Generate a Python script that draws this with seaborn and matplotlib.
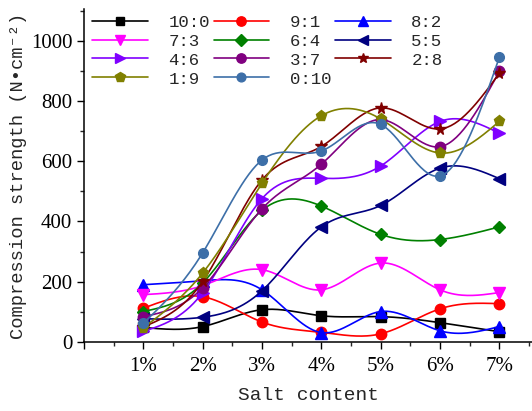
import numpy as np
import matplotlib
matplotlib.use("Agg")
import matplotlib.pyplot as plt
import seaborn as sns
from matplotlib.lines import Line2D
from matplotlib.ticker import MultipleLocator

# salt content (%) and compression strength for each ratio
salt = [1, 2, 3, 4, 5, 6, 7]
salt_labels = ["1%", "2%", "3%", "4%", "5%", "6%", "7%"]

r10_0 = [48, 51, 107, 87, 84, 64, 34]
r9_1 = [112, 150, 66, 32, 27, 110, 127]
r8_2 = [190, 203, 173, 31, 101, 37, 51]
r7_3 = [157, 187, 240, 173, 262, 173, 164]
r6_4 = [101, 196, 437, 451, 357, 340, 382]
r5_5 = [77, 82, 170, 382, 453, 577, 542]
r4_6 = [35, 164, 476, 543, 584, 732, 693]
r3_7 = [84, 180, 442, 590, 738, 648, 898]
r2_8 = [50, 201, 538, 649, 777, 707, 892]
r1_9 = [47, 229, 527, 751, 740, 627, 732]
r0_10 = [62, 296, 604, 634, 722, 551, 945]

labels = ["10:0", "9:1", "8:2", "7:3", "6:4", "5:5",
          "4:6", "3:7", "2:8", "1:9", "0:10"]
series = [r10_0, r9_1, r8_2, r7_3, r6_4, r5_5, r4_6, r3_7, r2_8, r1_9, r0_10]
colors = ["#000000", "#ff0000", "#0000ff", "#ff00ff", "#008000", "#000080",
          "#8000ff", "#800080", "#800000", "#808000", "#3d6fa8"]
markers = ["s", "o", "^", "v", "D", "<", ">", "o", "*", "p", "o"]
msizes = [7, 7.5, 8, 8, 6.5, 8, 8, 7.5, 8.5, 8, 7]


def natural_spline(x, y, n=200):
    # natural cubic spline through the points
    x = np.asarray(x, float)
    y = np.asarray(y, float)
    k = len(x)
    h = np.diff(x)
    A = np.zeros((k, k))
    b = np.zeros(k)
    A[0, 0] = A[-1, -1] = 1
    for i in range(1, k - 1):
        A[i, i - 1] = h[i - 1]
        A[i, i] = 2 * (h[i - 1] + h[i])
        A[i, i + 1] = h[i]
        b[i] = 3 * ((y[i + 1] - y[i]) / h[i] - (y[i] - y[i - 1]) / h[i - 1])
    c = np.linalg.solve(A, b)
    xs = np.linspace(x[0], x[-1], n)
    ys = np.empty_like(xs)
    for j, xv in enumerate(xs):
        i = min(np.searchsorted(x, xv, side="right") - 1, k - 2)
        dx = xv - x[i]
        bi = (y[i + 1] - y[i]) / h[i] - h[i] * (2 * c[i] + c[i + 1]) / 3
        di = (c[i + 1] - c[i]) / (3 * h[i])
        ys[j] = y[i] + bi * dx + c[i] * dx ** 2 + di * dx ** 3
    return xs, ys


sns.set_style("ticks")
plt.rcParams["font.family"] = ["Liberation Serif", "DejaVu Serif"]
plt.rcParams["xtick.direction"] = "out"
plt.rcParams["ytick.direction"] = "out"

fig = plt.figure(figsize=(5.32, 4.11), dpi=100)
ax = fig.add_axes([0.158, 0.168, 0.842, 0.81])

for s, lab, c, m, ms in zip(series, labels, colors, markers, msizes):
    xs, ys = natural_spline(salt, s)
    sns.lineplot(x=xs, y=ys, color=c, lw=1.2, estimator=None, sort=False, ax=ax)
    ax.plot(salt, s, ls="none", marker=m, ms=ms, color=c, mec=c)

ax.set_xlim(0, 7.55)
ax.set_ylim(0, 1105)
ax.set_xticks([0] + salt)
ax.set_xticklabels([""] + salt_labels)
ax.xaxis.set_minor_locator(MultipleLocator(0.5))
ax.yaxis.set_major_locator(MultipleLocator(200))
ax.yaxis.set_minor_locator(MultipleLocator(100))
ax.tick_params(which="major", length=5, width=1, labelsize=15, colors="black")
ax.tick_params(axis="x", which="major", pad=6)
ax.tick_params(which="minor", length=3, width=1)
for sp in ["top", "right"]:
    ax.spines[sp].set_visible(False)
for sp in ["left", "bottom"]:
    ax.spines[sp].set_linewidth(1.1)
    ax.spines[sp].set_color("black")

mono = ["Liberation Mono", "DejaVu Sans Mono"]
ax.set_xlabel("Salt content", family=mono, fontsize=14, labelpad=8)
ax.set_ylabel("Compression strength (N\u2022cm\u207b\u00b2)", family=mono,
              fontsize=13.5, labelpad=3)

# legend filled row by row (3 per row)
handles = [Line2D([], [], color=c, marker=m, ms=ms * 0.9, lw=1.2)
           for c, m, ms in zip(colors, markers, msizes)]
order = [0, 3, 6, 9, 1, 4, 7, 10, 2, 5, 8]
leg = ax.legend([handles[i] for i in order], [labels[i] for i in order],
                ncol=3, loc="upper left", bbox_to_anchor=(-0.005, 1.015),
                frameon=False, prop={"family": mono, "size": 12.5},
                handlelength=3.2, handletextpad=1.2, columnspacing=0.2,
                labelspacing=0.22, borderaxespad=0.2)

fig.savefig("out.png", dpi=100)
